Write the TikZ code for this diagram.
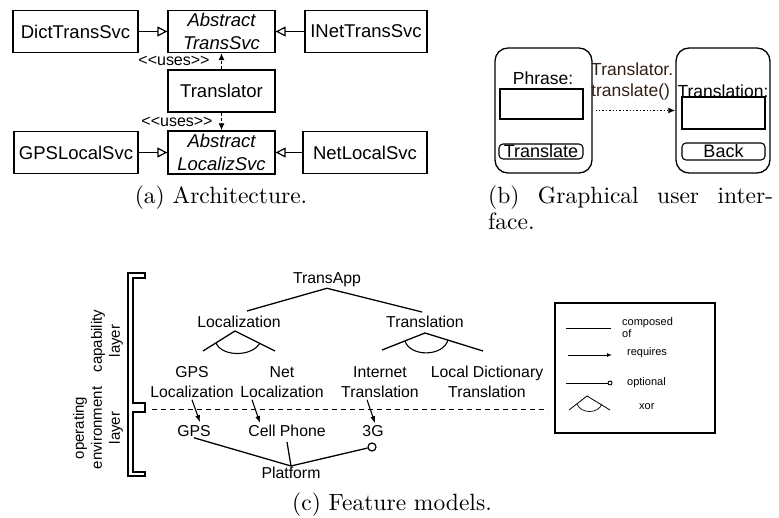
\documentclass[tikz,border=0pt]{standalone}
\usepackage{fontspec}
\newfontfamily\arial{Liberation Sans}
\newfontfamily\capfont{lmroman10-regular.otf}
\usetikzlibrary{arrows.meta,calc}
\definecolor{tcol}{RGB}{50,32,22}
\tikzset{
  box/.style={draw, line width=1.3pt, inner sep=0pt, align=center, font=\arial\fontsize{18.5}{23}\selectfont},
  abox/.style={box, font=\arial\itshape\fontsize{18.5}{23}\selectfont},
  inh/.style={line width=1.2pt, -{Triangle[open,length=10pt,width=10pt]}},
  uses/.style={line width=1.1pt, dash pattern=on 3pt off 2pt, -{Latex[length=7pt,width=6pt]}},
  lbl/.style={inner sep=0pt, font=\arial\fontsize{16}{18}\selectfont},
  phone/.style={draw, line width=1.3pt, rounded corners=13pt, inner sep=0pt},
  field/.style={draw, line width=1.3pt, inner sep=0pt},
  button/.style={draw, line width=1.1pt, rounded corners=4pt, inner sep=0pt, font=\arial\fontsize{18}{20}\selectfont},
  btxt/.style={inner sep=0pt, font=\arial\fontsize{17.5}{20}\selectfont},
  ft/.style={inner sep=1pt, align=center, font=\arial\fontsize{15.8}{20}\selectfont},
  comp/.style={line width=1.3pt},
  req/.style={line width=1.1pt, -{Latex[length=7pt,width=5pt]}},
  rot/.style={rotate=90, inner sep=0pt, align=center, font=\arial\fontsize{15}{18}\selectfont},
  legt/.style={inner sep=0pt, align=left, anchor=west, font=\arial\fontsize{11}{12}\selectfont},
  captxt/.style={inner sep=0pt, font=\capfont\fontsize{23.5}{28}\selectfont},
}
\begin{document}
\begin{tikzpicture}[x=1pt,y=-1pt]
\fill[white] (0,0) rectangle (779,518);
\useasboundingbox (0,0) rectangle (779,518);

% ---------------- (a) Architecture
\node[box, minimum width=125pt, minimum height=42pt] (dict) at (75.5,31.5) {DictTransSvc};
\node[abox, minimum width=107pt, minimum height=42pt] (absT) at (221.5,31.5) {Abstract\\TransSvc};
\node[box, minimum width=122pt, minimum height=42pt] (inet) at (366,31.5) {INetTransSvc};
\node[box, minimum width=107pt, minimum height=42pt] (trans) at (221.5,91) {Translator};
\node[abox, minimum width=107pt, minimum height=43pt] (absL) at (221.5,152.5) {Abstract\\LocalizSvc};
\node[box, minimum width=124pt, minimum height=42pt] (gpsS) at (76,152.5) {GPSLocalSvc};
\node[box, minimum width=124pt, minimum height=42pt] (netS) at (365,152.5) {NetLocalSvc};
\draw[inh] (dict.east) -- (absT.west);
\draw[inh] (inet.west) -- (absT.east);
\draw[inh] (gpsS.east) -- (absL.west);
\draw[inh] (netS.west) -- (absL.east);
\draw[uses] (trans.north) -- (absT.south);
\draw[uses] (trans.south) -- (absL.north);
\node[lbl] (u1) at (174,61) {{<}{<}uses{>}{>}};
\node[lbl] (u2) at (177,122) {{<}{<}uses{>}{>}};
\node[captxt, anchor=base] (capa) at (221,204) {(a) Architecture.};

% ---------------- (b) GUI
\node[phone, minimum width=97pt, minimum height=125pt] (ph1) at (543.5,110.5) {};
\node[btxt] (phr) at (543,78) {Phrase:};
\node[field, minimum width=83pt, minimum height=30pt] (f1) at (541.5,104) {};
\node[button, minimum width=84pt, minimum height=15pt] (b1) at (541,151.5) {Translate};
\node[phone, minimum width=94pt, minimum height=125pt] (ph2) at (723,110.5) {};
\node[btxt] (tln) at (723,91) {Translation:};
\node[field, minimum width=83pt, minimum height=32pt] (f2) at (723.5,113) {};
\node[button, minimum width=83pt, minimum height=17pt] (b2) at (723.5,151.5) {Back};
\draw[dotted, line width=1.4pt, -{Latex[length=7pt,width=6pt]}, shorten <=3pt] (ph1.east) -- (ph2.west);
\node[btxt, anchor=west, text=tcol] (tc1) at (591,69) {Translator.};
\node[btxt, anchor=west, text=tcol] (tc2) at (591,92) {translate()};
\node[captxt, anchor=base west] (capb1) at (488,204) {\makebox[285pt][s]{(b) Graphical user inter-}};
\node[captxt, anchor=base west] (capb2) at (488,230) {face.};

% ---------------- (c) Feature models
\node[rot] (opl) at (98,428) {operating\\environment\\layer};
\node[rot] (cpl) at (107,341) {capability\\layer};
\draw[line width=1.1pt] (145,273) -- (128,273) -- (128,476) -- (145,476) -- (145,472) -- (133,472)
  -- (133,412) -- (145,412) -- (145,403) -- (133,403) -- (133,278) -- (145,278) -- cycle;

\node[ft] (tapp) at (327,280) {TransApp};
\node[ft] (loc) at (239,322) {Localization};
\node[ft] (tra) at (425,322) {Translation};
\coordinate (tl) at (247,311);
\coordinate (tr) at (422,312);
\draw[comp] (tl) -- (tapp.south) -- (tr);

% xor under Localization
\coordinate (x1) at (235,331);
\coordinate (x1l) at (203,351);
\coordinate (x1r) at (275,351);
\draw[comp] (x1l) -- (x1) -- (x1r);
\draw[line width=1.1pt] (216,343) .. controls (222,357) and (252,357) .. (260,343);
% xor under Translation
\coordinate (x2) at (425,333);
\coordinate (x2l) at (382,350);
\coordinate (x2r) at (483,351);
\draw[comp] (x2l) -- (x2) -- (x2r);
\draw[line width=1.1pt] (405,341) .. controls (410,357) and (443,357) .. (448,340);

\node[ft] (gpsl) at (192,382) {GPS\\Localization};
\node[ft] (netl) at (282,382) {Net\\Localization};
\node[ft] (inett) at (380,382) {Internet\\Translation};
\node[ft] (ldt) at (487,382) {Local Dictionary\\Translation};

\coordinate (dl) at (152,409);
\coordinate (dr) at (548,409);
\draw[line width=1pt, dash pattern=on 5pt off 4pt] (dl) -- (dr);

\node[ft] (gpsp) at (194,431) {GPS};
\node[ft] (cell) at (287,431) {Cell Phone};
\node[ft] (g3) at (373,431) {3G};
\node[ft] (plat) at (291,473) {Platform};
\node[circle, draw, line width=1.2pt, minimum size=8pt, inner sep=0pt] (opt) at (372,447) {};

\draw[req] ($(gpsl.south)+(0,1)$) -- ($(gpsp.north)+(6,-2)$);
\draw[req] ($(netl.south)+(-30,1)$) -- ($(cell.north)+(-27,-1)$);
\draw[req] ($(inett.south)+(-13,1)$) -- ($(g3.north)+(2,-1)$);

\draw[comp] (gpsp.south) -- (plat.north);
\draw[comp] ($(cell.south)+(0,4)$) -- (plat.north);
\draw[comp] (plat.north) -- (opt);

\node[captxt, anchor=base] (capc) at (392,510) {(c) Feature models.};

% legend
\node[draw, line width=2.8pt, minimum width=160pt, minimum height=130pt, inner sep=0pt] (leg) at (635,368) {};
\coordinate (l1a) at (566,328); \coordinate (l1b) at (611,328);
\draw[line width=0.9pt] (l1a) -- (l1b);
\node[legt] (lt1) at (622,328) {composed\\of};
\coordinate (l2a) at (568,355); \coordinate (l2b) at (612,355);
\draw[line width=0.9pt, -{Latex[length=5pt,width=4pt]}] (l2a) -- (l2b);
\node[legt] (lt2) at (627,353) {requires};
\node[circle, draw, line width=0.9pt, minimum size=4pt, inner sep=0pt] (lo) at (610,383) {};
\coordinate (l3a) at (566,383);
\draw[line width=0.9pt] (l3a) -- (lo);
\node[legt] (lt3) at (627,383) {optional};
\coordinate (lx) at (587,396); \coordinate (lxl) at (569,410); \coordinate (lxr) at (610,410);
\draw[line width=0.8pt] (lxl) -- (lx) -- (lxr);
\draw[line width=0.7pt] (577,404) .. controls (581,414) and (598,414) .. (602,404);
\node[legt] (lt4) at (639,407) {xor};
\end{tikzpicture}
\end{document}
